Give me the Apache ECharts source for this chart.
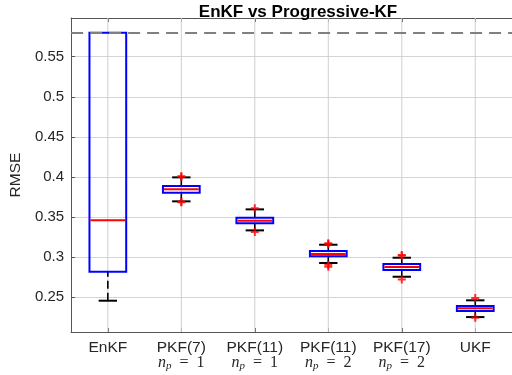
<!DOCTYPE html>
<html>
<head>
<meta charset="utf-8">
<script src="https://cdn.jsdelivr.net/npm/echarts@6/dist/echarts.min.js"></script>
<style>html,body{margin:0;padding:0;background:#fff;}#c{width:512px;height:375px;}</style>
</head>
<body>
<div id="c"></div>
<script>
const categories = ['EnKF', 'PKF(7)', 'PKF(11)', 'PKF(11)', 'PKF(17)', 'UKF'];
const npLabels = ['', '1', '1', '2', '2', ''];
const lowerWhisker = [0.2458, 0.3697, 0.3335, 0.2928, 0.2757, 0.2254];
const q1 = [0.282, 0.3804, 0.3423, 0.3011, 0.2840, 0.2330];
const median = [0.346, 0.3847, 0.3455, 0.3040, 0.2878, 0.2363];
const q3 = [0.580, 0.3888, 0.3493, 0.3077, 0.2915, 0.2392];
const upperWhisker = [0.580, 0.3996, 0.3597, 0.3156, 0.2994, 0.2463];
const outliers = [[1,0.4010],[1,0.4003],[1,0.3685],[1,0.3692],[2,0.3610],[2,0.3314],[3,0.3173],[3,0.3165],[3,0.2906],[3,0.2880],[4,0.3027],[4,0.3018],[4,0.2724],[5,0.2491],[5,0.2246]];
const refLine = 0.58;
const yMin = 0.2068, yMax = 0.5983;

const boxData = categories.map((c, i) => [i, lowerWhisker[i], q1[i], median[i], q3[i], upperWhisker[i]]);

const chart = echarts.init(document.getElementById('c'));
const axisCol = '#555555';
const textCol = '#262626';

function renderBox(params, api) {
  const i = api.value(0);
  const band = api.size([1, 0])[0];
  const hw = band * 0.25, cw = band * 0.125;
  const pLo = api.coord([i, api.value(1)]);
  const pQ1 = api.coord([i, api.value(2)]);
  const pMed = api.coord([i, api.value(3)]);
  const pQ3 = api.coord([i, api.value(4)]);
  const pHi = api.coord([i, api.value(5)]);
  const x = pQ1[0];
  const children = [];
  const wStyle = {stroke: '#000', lineWidth: 1.6, lineDash: [8, 4]};
  if (Math.abs(pLo[1] - pQ1[1]) > 0.5) {
    children.push({type: 'line', shape: {x1: x, y1: pLo[1], x2: x, y2: pQ1[1]}, style: wStyle});
    children.push({type: 'line', shape: {x1: x - cw, y1: pLo[1], x2: x + cw, y2: pLo[1]}, style: {stroke: '#000', lineWidth: 2}});
  }
  if (Math.abs(pHi[1] - pQ3[1]) > 0.5) {
    children.push({type: 'line', shape: {x1: x, y1: pHi[1], x2: x, y2: pQ3[1]}, style: wStyle});
    children.push({type: 'line', shape: {x1: x - cw, y1: pHi[1], x2: x + cw, y2: pHi[1]}, style: {stroke: '#000', lineWidth: 2}});
  }
  children.push({type: 'rect', shape: {x: x - hw, y: pQ3[1], width: 2 * hw, height: pQ1[1] - pQ3[1]},
    style: {fill: 'rgba(255,255,255,0)', stroke: '#0000ff', lineWidth: 2}});
  children.push({type: 'line', shape: {x1: x - hw + 1, y1: pMed[1], x2: x + hw - 1, y2: pMed[1]}, style: {stroke: '#ff0000', lineWidth: 2}});
  return {type: 'group', children: children};
}

function renderGrid(params, api) {
  const cs = params.coordSys;
  const p = api.coord([api.value(0), yMin]);
  return {type: 'line', shape: {x1: p[0], y1: cs.y, x2: p[0], y2: cs.y + cs.height},
    style: {stroke: '#cfcfcf', lineWidth: 1}, silent: true};
}

const labelRich = {
  a: {fontFamily: 'Liberation Sans', fontSize: 15.5, color: textCol, lineHeight: 15},
  n: {fontFamily: 'Liberation Serif', fontStyle: 'italic', fontSize: 16, color: textCol, lineHeight: 15},
  p: {fontFamily: 'Liberation Serif', fontStyle: 'italic', fontSize: 11, color: textCol, lineHeight: 15, padding: [7, 0, 0, 0]},
  e: {fontFamily: 'Liberation Serif', fontSize: 16, color: textCol, lineHeight: 15}
};

chart.setOption({
  animation: false,
  title: {
    text: 'EnKF vs Progressive-KF', left: 293, top: -1, textAlign: 'center',
    textStyle: {fontFamily: 'Liberation Sans', fontWeight: 'bold', fontSize: 17, color: '#000'}
  },
  grid: {left: 70, right: -4.5, top: 18, bottom: 43, containLabel: false},
  xAxis: [{
    type: 'category', data: categories, position: 'bottom',
    axisLine: {show: true, lineStyle: {color: axisCol, width: 1}},
    axisTick: {show: true, inside: true, alignWithLabel: true, length: 4, lineStyle: {color: axisCol}},
    axisLabel: {
      margin: 8, interval: 0,
      formatter: function (v, i) {
        const np = npLabels[i];
        return np ? '{a|' + v + '}\n{n|n}{p|p}{e|\u2002=\u2002' + np + '}' : '{a|' + v + '}';
      },
      rich: labelRich
    },
    splitLine: {show: false}
  }, {
    type: 'category', data: categories, position: 'top',
    axisLine: {show: true, lineStyle: {color: axisCol, width: 1}},
    axisTick: {show: true, inside: true, alignWithLabel: true, length: 4, lineStyle: {color: axisCol}},
    axisLabel: {show: false}, splitLine: {show: false}
  }],
  yAxis: {
    type: 'value', min: yMin, max: yMax, splitNumber: 8,
    name: 'RMSE', nameLocation: 'middle', nameGap: 41,
    nameTextStyle: {fontFamily: 'Liberation Sans', fontSize: 15.5, color: textCol},
    axisLine: {show: true, lineStyle: {color: axisCol, width: 1}},
    axisTick: {show: true, inside: true, length: 4, lineStyle: {color: axisCol}},
    axisLabel: {showMinLabel: false, showMaxLabel: false, margin: 7,
      fontFamily: 'Liberation Sans', fontSize: 15, color: textCol},
    splitLine: {show: true, showMinLine: false, showMaxLine: false, lineStyle: {color: '#d4d4d4', width: 1}}
  },
  series: [{
    type: 'custom', name: 'vgrid', z: 1, silent: true,
    data: categories.map((c, i) => [i]),
    renderItem: renderGrid
  }, {
    type: 'line', name: 'ref', data: [], z: 2,
    markLine: {silent: true, symbol: 'none', label: {show: false},
      lineStyle: {color: '#808080', width: 1.8, type: [12, 7]},
      data: [{yAxis: refLine}]}
  }, {
    type: 'custom', name: 'box', z: 3,
    data: boxData, encode: {x: 0, y: [1, 2, 3, 4, 5]},
    renderItem: renderBox
  }, {
    type: 'scatter', name: 'outliers', z: 4,
    symbol: 'path://M3,0H5V3H8V5H5V8H3V5H0V3H3Z', symbolSize: 8,
    itemStyle: {color: '#ff0000'},
    data: outliers
  }]
});
</script>
</body>
</html>
